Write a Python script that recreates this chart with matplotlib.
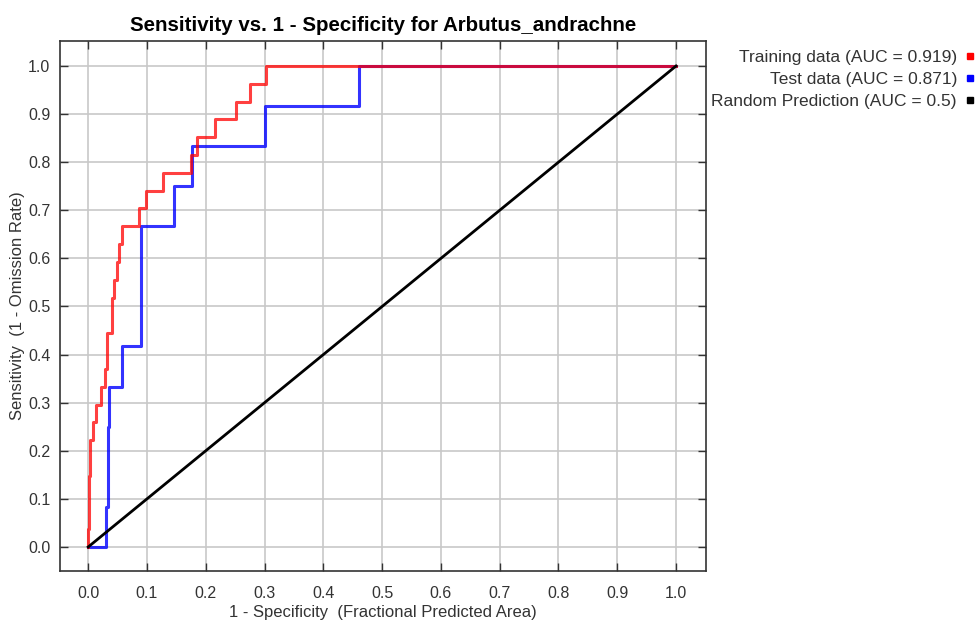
import matplotlib
matplotlib.use("Agg")
import matplotlib.pyplot as plt
from matplotlib.lines import Line2D

plt.rcParams['font.family'] = ['Liberation Sans', 'DejaVu Sans']

# training ROC: fractional area where sensitivity steps up, and the new sensitivity (k/27)
train_fpr = [0.0, 0.0, 0.001, 0.003, 0.008, 0.014, 0.021, 0.029, 0.032, 0.040,
             0.044, 0.049, 0.053, 0.058, 0.086, 0.098, 0.128, 0.175, 0.185,
             0.215, 0.251, 0.276, 0.302, 1.0]
train_tpr = [0.0, 0.037, 0.148, 0.222, 0.259, 0.296, 0.333, 0.370, 0.444, 0.518,
             0.556, 0.593, 0.630, 0.667, 0.704, 0.741, 0.778, 0.815, 0.852,
             0.889, 0.926, 0.963, 1.0, 1.0]

# test ROC (12 test points)
test_fpr = [0.0, 0.031, 0.033, 0.035, 0.057, 0.090, 0.146, 0.176, 0.301, 0.460, 1.0]
test_tpr = [0.0, 0.083, 0.250, 0.333, 0.417, 0.667, 0.750, 0.833, 0.917, 1.0, 1.0]

random_x = [0.0, 1.0]
random_y = [0.0, 1.0]

labels = ['Training data (AUC = 0.919)', 'Test data (AUC = 0.871)',
          'Random Prediction (AUC = 0.5)']
colors = ['#ff0000', '#0000ff', '#000000']
ticks = [i / 10 for i in range(11)]

fig = plt.figure(figsize=(9.75, 6.21), dpi=100)
ax = fig.add_axes([60 / 975, 50 / 621, 646 / 975, 530 / 621])

ax.step(test_fpr, test_tpr, where='post', color=colors[1], lw=2.2, alpha=0.8, zorder=3)
ax.step(train_fpr, train_tpr, where='post', color=colors[0], lw=2.2, alpha=0.75, zorder=4)
ax.plot(random_x, random_y, color=colors[2], lw=2.0, zorder=5)

ax.set_xlim(-0.048, 1.051)
ax.set_ylim(-0.050, 1.052)
ax.set_xticks(ticks)
ax.set_yticks(ticks)
ax.set_xticklabels([f'{t:.1f}' for t in ticks])
ax.set_yticklabels([f'{t:.1f}' for t in ticks])
ax.grid(True, color='#c8c8c8', lw=1.2)
ax.set_axisbelow(True)
ax.tick_params(direction='in', length=6, width=1, top=True, right=True,
               labelsize=11.5, colors='#333333')
ax.tick_params(axis='x', pad=11)
ax.tick_params(axis='y', pad=7)
for s in ax.spines.values():
    s.set_color('#333333')
    s.set_linewidth(1.2)

ax.set_xlabel('1 - Specificity  (Fractional Predicted Area)', fontsize=12,
              color='#333333', labelpad=3)
ax.set_ylabel('Sensitivity  (1 - Omission Rate)', fontsize=12,
              color='#333333', labelpad=2)
ax.set_title('Sensitivity vs. 1 - Specificity for Arbutus_andrachne',
             fontsize=14.8, fontweight='bold', pad=7)

handles = [Line2D([], [], marker='s', ls='none', color=c, markersize=5) for c in colors]
fig.legend(handles, labels, loc='upper right', bbox_to_anchor=(1.018, 1 - 34 / 621),
           frameon=False, markerfirst=False, fontsize=12.5, handlelength=0.8,
           handletextpad=0.35, labelspacing=0.4, labelcolor='#333333')

fig.savefig('out.png', dpi=100)
